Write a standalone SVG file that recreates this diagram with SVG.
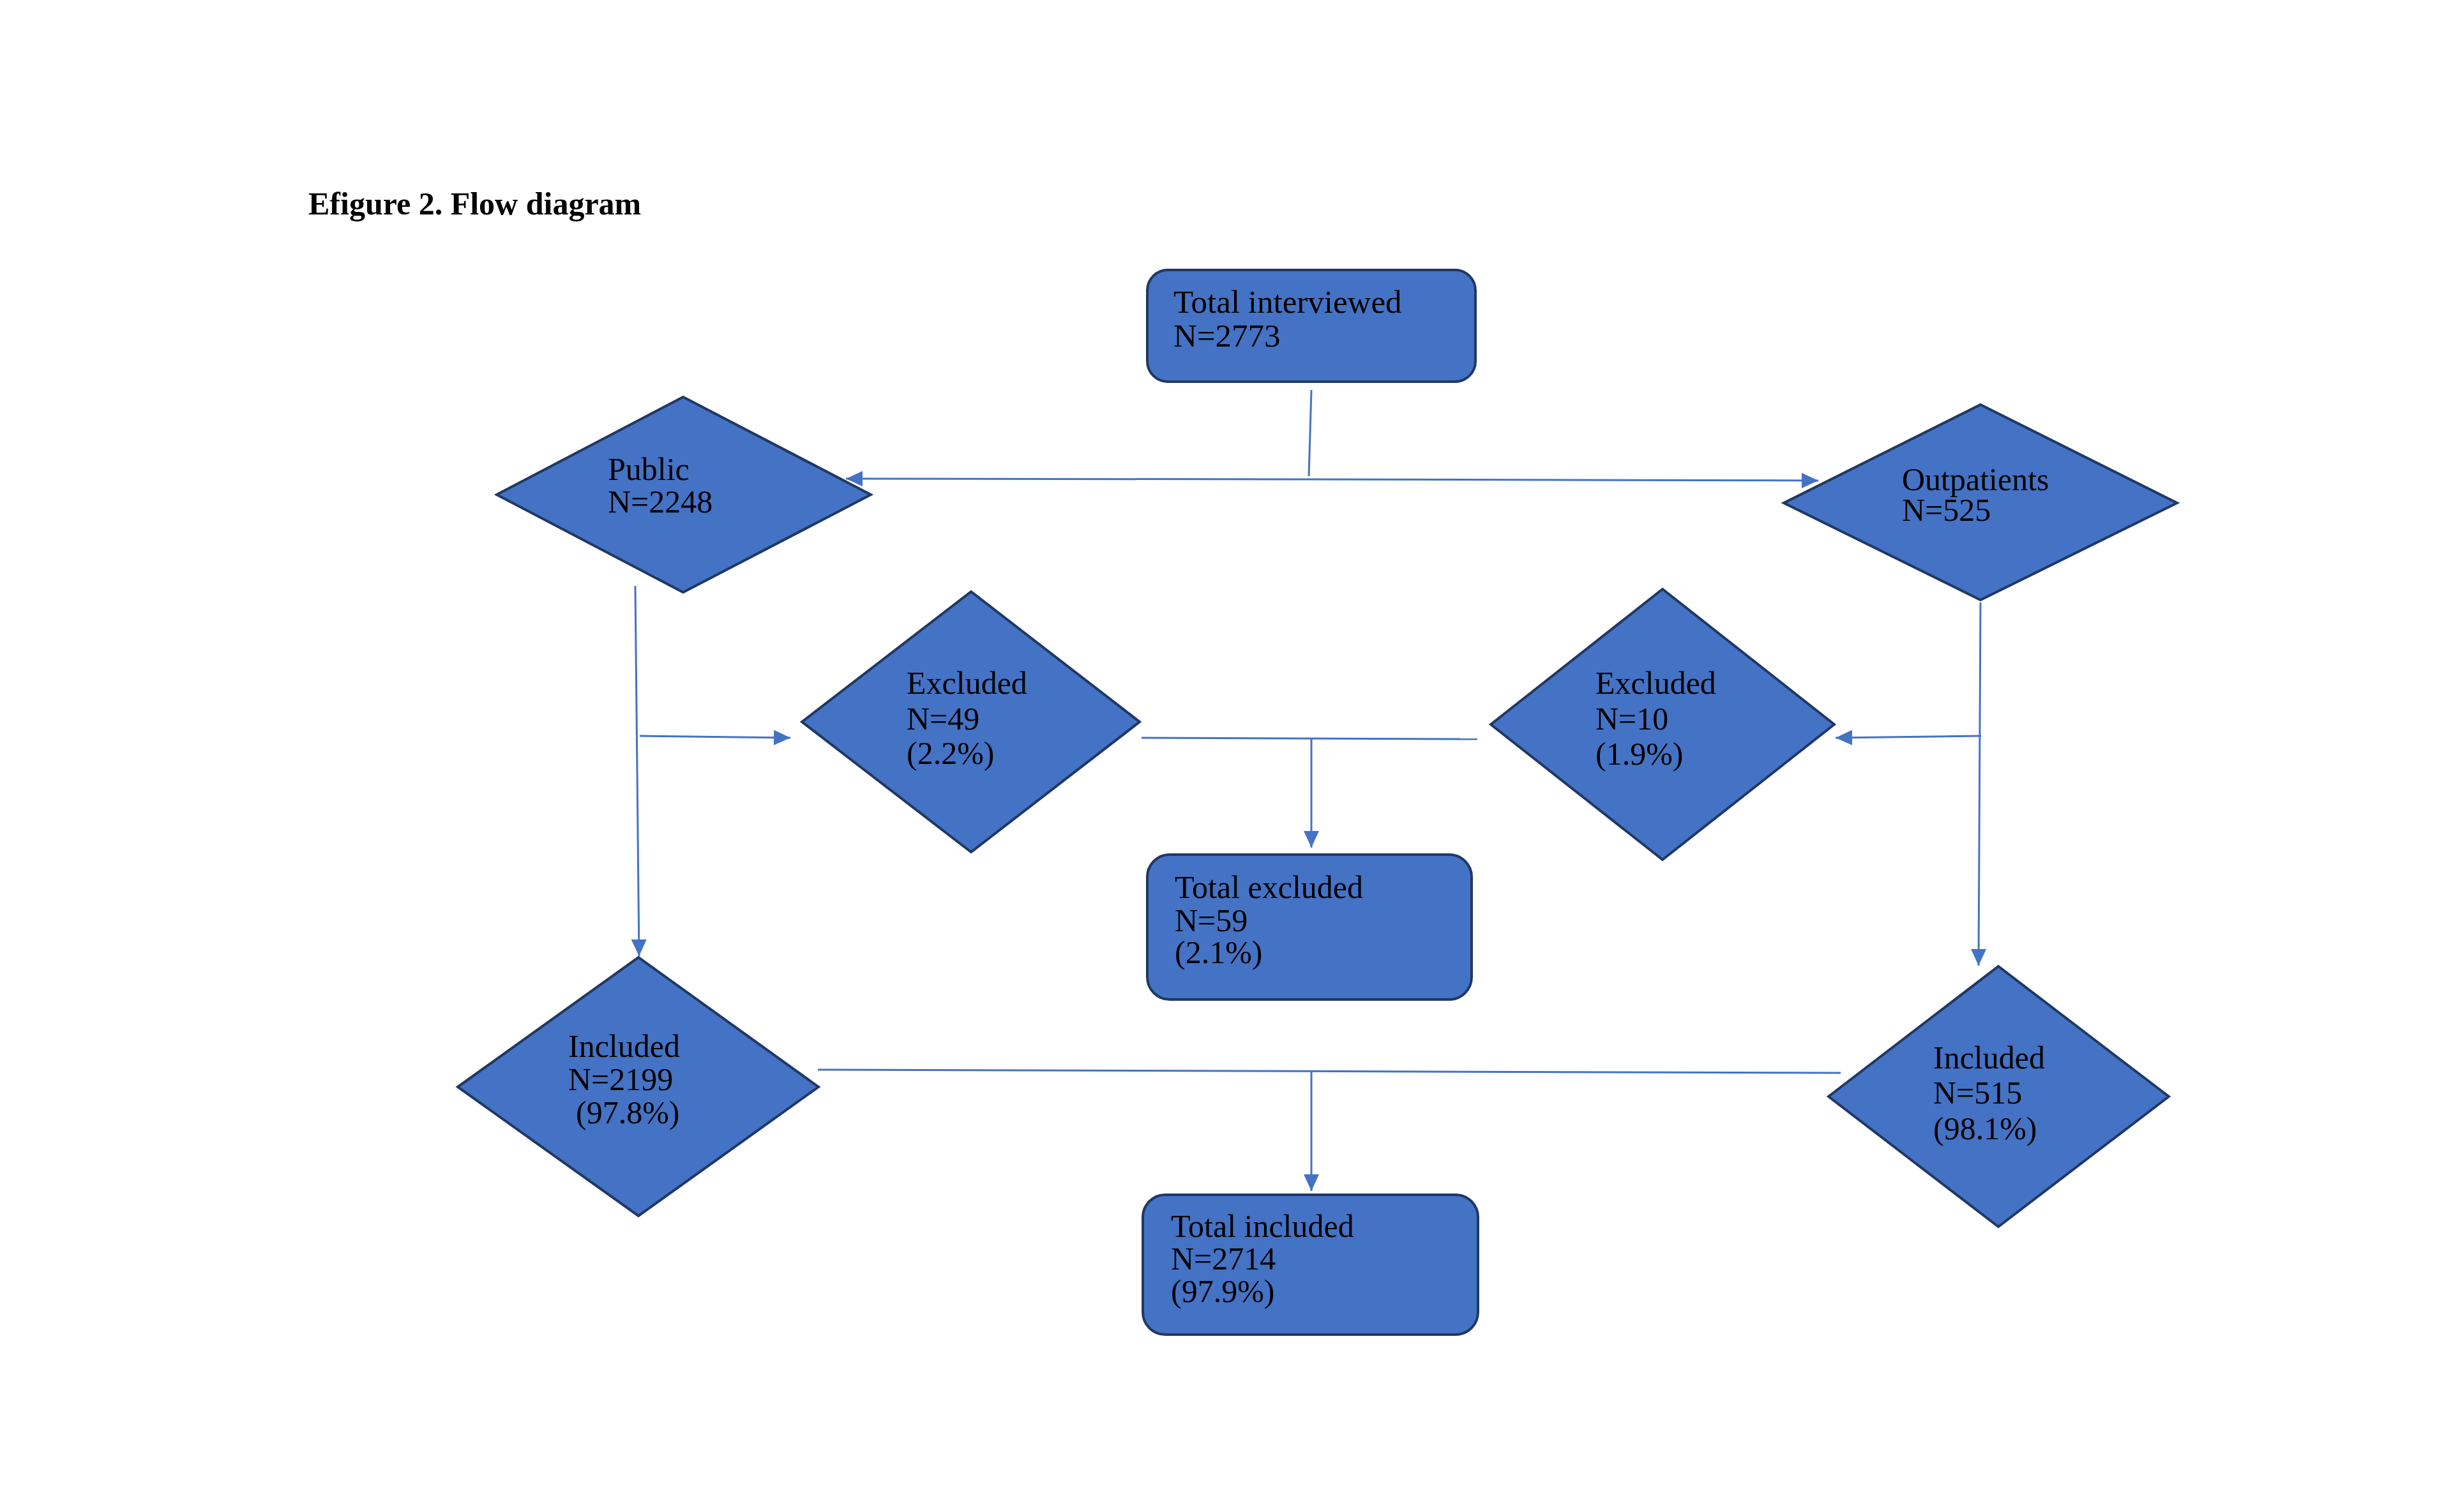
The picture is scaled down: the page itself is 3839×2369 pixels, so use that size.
<svg xmlns="http://www.w3.org/2000/svg" width="3839" height="2369" viewBox="0 0 3839 2369">
<style>
.shape{fill:#4472C4;stroke:#203864;stroke-width:4;stroke-linejoin:miter}
.lbl{font-family:"Liberation Serif","Times New Roman",serif;font-size:50px;fill:#000}
.title{font-family:"Liberation Serif","Times New Roman",serif;font-size:50px;font-weight:bold;fill:#000}
.conn{stroke:#4472C4;stroke-width:3;fill:none}
</style>
<defs>
<marker id="arr" markerUnits="userSpaceOnUse" markerWidth="26" markerHeight="24" refX="26" refY="12" orient="auto">
<path d="M0,0 L26,12 L0,24 Z" fill="#4472C4"/>
</marker>
</defs>
<rect width="3839" height="2369" fill="#fff"/>
<text class="title" x="483" y="336">Efigure 2. Flow diagram</text>

<g id="connectors">
<line class="conn" x1="2054" y1="611" x2="2050" y2="746"/>
<line class="conn" x1="2050" y1="751" x2="1325" y2="750" marker-end="url(#arr)"/>
<line class="conn" x1="2050" y1="751" x2="2848" y2="753" marker-end="url(#arr)"/>
<line class="conn" x1="995" y1="918" x2="1001" y2="1498" marker-end="url(#arr)"/>
<line class="conn" x1="1002" y1="1153" x2="1238" y2="1156" marker-end="url(#arr)"/>
<line class="conn" x1="3102" y1="944" x2="3099" y2="1513" marker-end="url(#arr)"/>
<line class="conn" x1="3103" y1="1153" x2="2875" y2="1156" marker-end="url(#arr)"/>
<line class="conn" x1="1788" y1="1156" x2="2314" y2="1158"/>
<line class="conn" x1="2054" y1="1158" x2="2054" y2="1328" marker-end="url(#arr)"/>
<line class="conn" x1="1281" y1="1676" x2="2883" y2="1681"/>
<line class="conn" x1="2054" y1="1678" x2="2054" y2="1866" marker-end="url(#arr)"/>
</g>

<g id="total-interviewed">
<rect class="shape" x="1797" y="423" width="514" height="175" rx="32" ry="32"/>
<text class="lbl" style="font-size:51px"><tspan x="1838" y="490">Total interviewed</tspan><tspan x="1838" y="543">N=2773</tspan></text>
</g>

<g id="public">
<polygon class="shape" points="778,775 1070,622 1364,775 1070,928"/>
<text class="lbl"><tspan x="952" y="752">Public</tspan><tspan x="952" y="803">N=2248</tspan></text>
</g>

<g id="outpatients">
<polygon class="shape" points="2794,788 3102,634 3410,788 3102,940"/>
<text class="lbl"><tspan x="2979" y="768">Outpatients</tspan><tspan x="2979" y="816">N=525</tspan></text>
</g>

<g id="excluded-public">
<polygon class="shape" points="1256,1131 1521,927 1785,1131 1521,1335"/>
<text class="lbl"><tspan x="1420" y="1087">Excluded</tspan><tspan x="1420" y="1143">N=49</tspan><tspan x="1420" y="1197">(2.2%)</tspan></text>
</g>

<g id="excluded-outpatients">
<polygon class="shape" points="2335,1135 2604,923 2873,1135 2604,1347"/>
<text class="lbl"><tspan x="2499" y="1087">Excluded</tspan><tspan x="2499" y="1143">N=10</tspan><tspan x="2499" y="1198">(1.9%)</tspan></text>
</g>

<g id="total-excluded">
<rect class="shape" x="1797" y="1339" width="508" height="227" rx="35" ry="35"/>
<text class="lbl"><tspan x="1840" y="1407">Total excluded</tspan><tspan x="1840" y="1459">N=59</tspan><tspan x="1840" y="1509">(2.1%)</tspan></text>
</g>

<g id="included-public">
<polygon class="shape" points="717,1703 1000,1500 1282,1703 1000,1905"/>
<text class="lbl"><tspan x="890" y="1656">Included</tspan><tspan x="890" y="1708">N=2199</tspan><tspan x="902" y="1760">(97.8%)</tspan></text>
</g>

<g id="included-outpatients">
<polygon class="shape" points="2864,1718 3130,1514 3397,1718 3130,1922"/>
<text class="lbl"><tspan x="3028" y="1674">Included</tspan><tspan x="3028" y="1729">N=515</tspan><tspan x="3028" y="1785">(98.1%)</tspan></text>
</g>

<g id="total-included">
<rect class="shape" x="1790" y="1872" width="525" height="219" rx="35" ry="35"/>
<text class="lbl"><tspan x="1834" y="1938">Total included</tspan><tspan x="1834" y="1989">N=2714</tspan><tspan x="1834" y="2040">(97.9%)</tspan></text>
</g>
</svg>
